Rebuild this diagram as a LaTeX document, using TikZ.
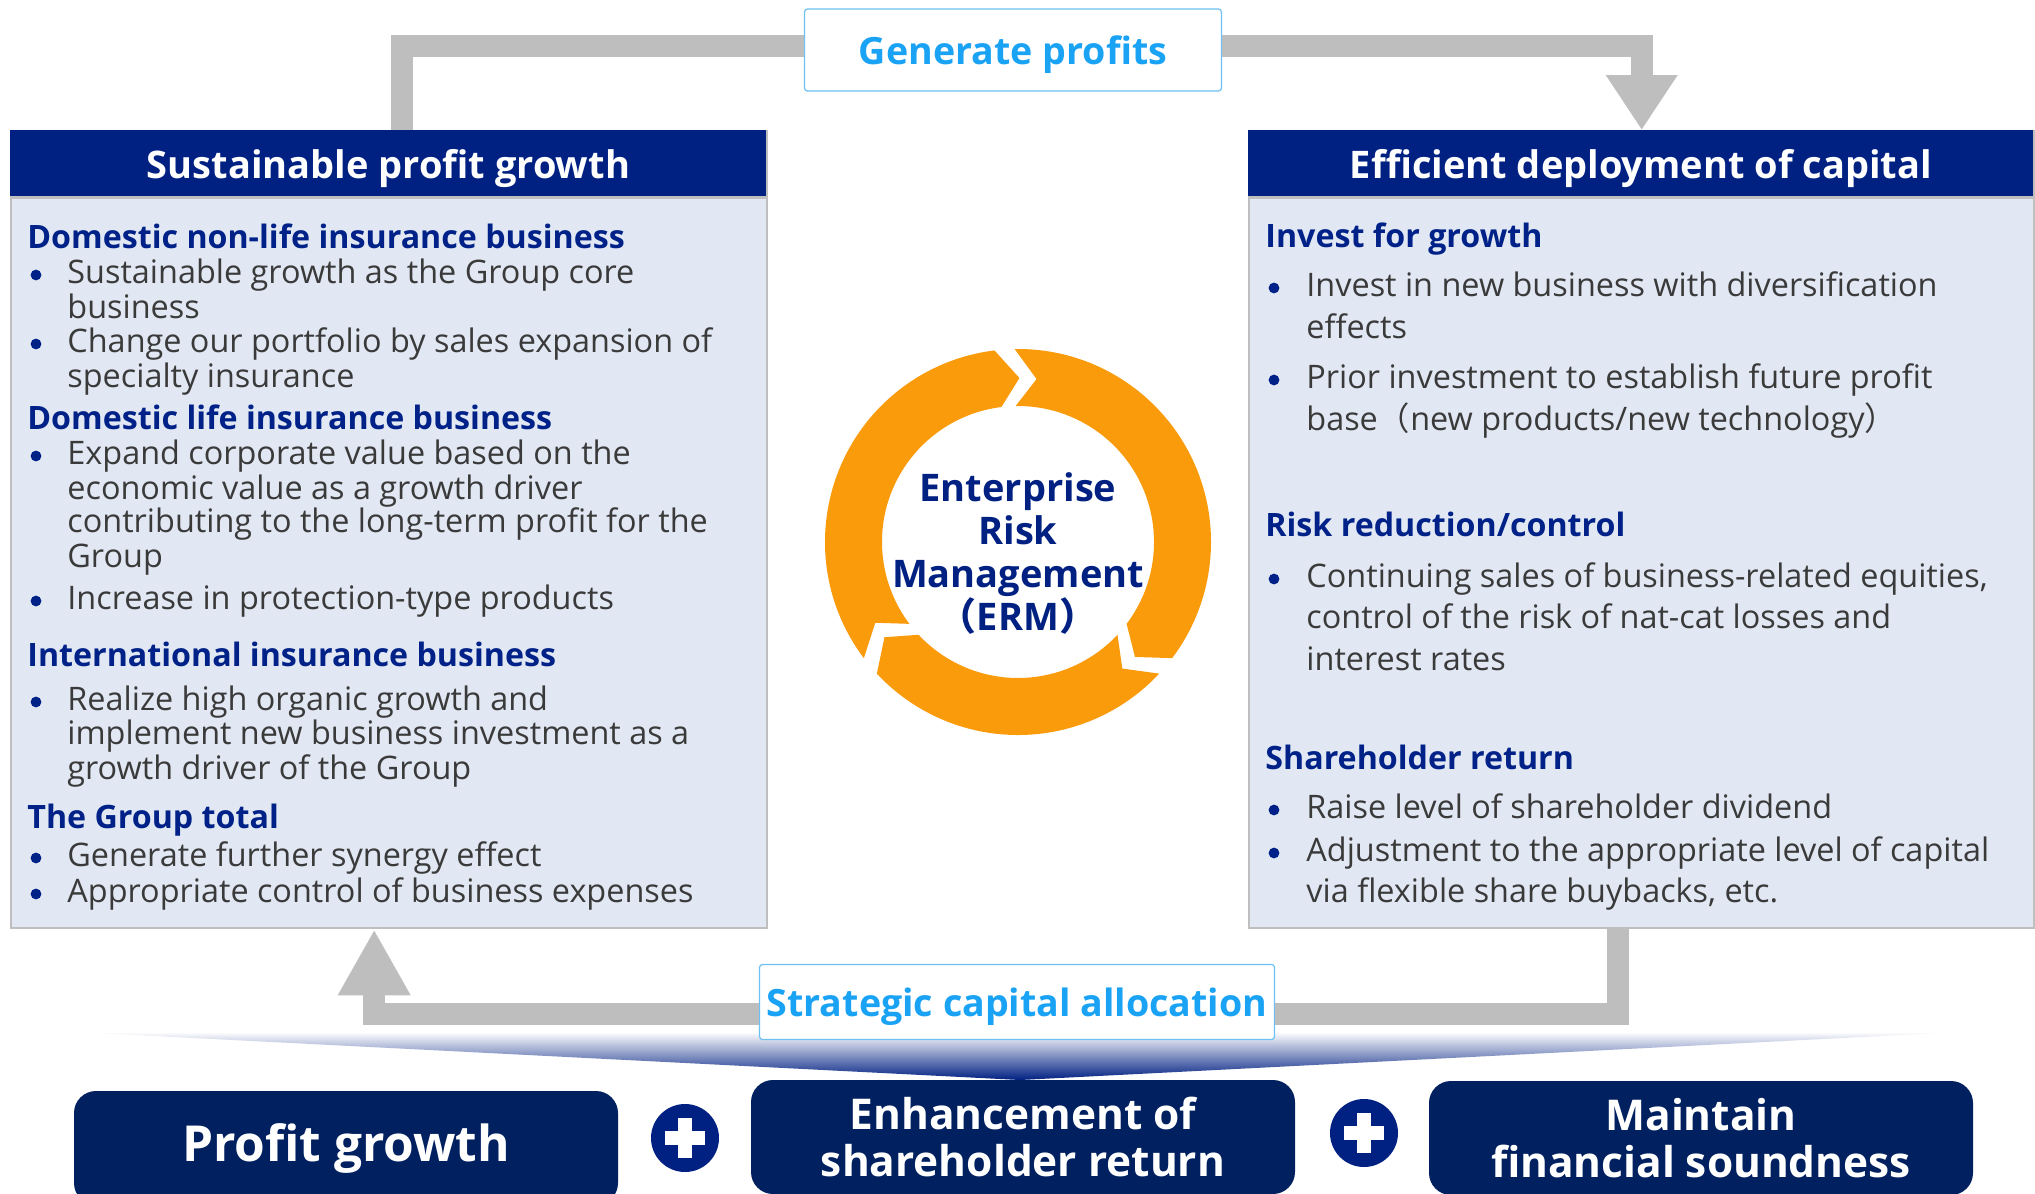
\documentclass[tikz,border=0pt]{standalone}
\usepackage{fontspec}
\setmainfont{Open Sans}
\newfontfamily\cjkfont{Noto Sans CJK JP}
\usepackage{xcolor}
\usetikzlibrary{arrows.meta,positioning}

\definecolor{hdrblue}{HTML}{002082}
\definecolor{goalnavy}{HTML}{00205F}
\definecolor{panelfill}{HTML}{E1E8F3}
\definecolor{panelline}{HTML}{BFBFBF}
\definecolor{subblue}{HTML}{002288}
\definecolor{bodygray}{HTML}{3A3A3A}
\definecolor{flowgray}{HTML}{BEBEBE}
\definecolor{skyblue}{HTML}{1AA3F5}
\definecolor{skyline}{HTML}{6CC0F2}
\definecolor{ringorange}{HTML}{F99B0B}

\begin{document}
\begin{tikzpicture}[x=0.5pt, y=-0.5pt,
  panel/.style={draw=panelline, line width=1.2pt, fill=panelfill, anchor=north west, inner sep=0},
  hdr/.style={fill=hdrblue, anchor=north west, inner sep=0, text=white, text height=19pt, text depth=4.5pt,
    font=\bfseries\fontsize{19}{22}\selectfont},
  sub/.style={anchor=west, inner sep=0, text=subblue, text height=16.2pt, text depth=3.5pt,
    font=\bfseries\fontsize{16.1}{19}\selectfont},
  body/.style={anchor=west, inner sep=0, text=bodygray, text height=16pt, text depth=3.5pt,
    font=\fontsize{16.2}{19}\selectfont},
  dot/.style={circle, fill=subblue, inner sep=0, minimum size=5.4pt, yshift=-2pt},
  tag/.style={draw=skyline, line width=0.6pt, fill=white, rounded corners=1.5pt, text=skyblue,
    inner sep=0, text height=18.5pt, text depth=4.5pt, font=\bfseries\fontsize{18.8}{21}\selectfont},
  goal/.style={fill=goalnavy, rounded corners=11pt, text=white, align=center, inner sep=0,
    minimum width=272pt, minimum height=57pt, font=\bfseries\fontsize{21.2}{23.5}\selectfont},
  plusdisc/.style={circle, fill=hdrblue, inner sep=0, minimum size=34pt},
  flow/.style={draw=flowgray, line width=11pt},
  erm/.style={align=center, text=hdrblue, inner sep=0,
    font=\bfseries\fontsize{19}{21.5}\selectfont}]
  \clip (0,0) rectangle (2035,1194);
  \fill[white] (0,0) rectangle (2035,1194);

  % funnel shading above the three goals
  \shade[top color=white, bottom color=hdrblue] (75,1032) -- (1960,1032) -- (1020,1080) -- cycle;

  % panels
  \node[panel, minimum width=378pt, minimum height=398.5pt] (lbox) at (10,130) {};
  \node[hdr, minimum width=378pt, minimum height=33.5pt] (lhdr) at (10,130) {Sustainable profit growth};
  \draw[panelline, line width=1.5pt] (lhdr.south west) -- (lhdr.south east);
  \node[panel, minimum width=392.5pt, minimum height=398.5pt] (rbox) at (1248,130) {};
  \node[hdr, minimum width=392.5pt, minimum height=33.5pt] (rhdr) at (1248,130) {Efficient deployment of capital};
  \draw[panelline, line width=1.5pt] (rhdr.south west) -- (rhdr.south east);

  % left panel text
  \node[sub] (ls1) at (27,236) {Domestic non-life insurance business};
  \node[sub] (ls2) at (27,417) {Domestic life insurance business};
  \node[sub] (ls3) at (27,654) {International insurance business};
  \node[sub] (ls4) at (27,816) {The Group total};
  \foreach \yy in {271,340,452,597,698,854,890}
    \node[dot] (ld\yy) at (36,\yy) {};
  \foreach \yy/\txt in {271/{Sustainable growth as the Group core}, 306/{business},
      340/{Change our portfolio by sales expansion of}, 375/{specialty insurance},
      452/{Expand corporate value based on the}, 487/{economic value as a growth driver},
      520/{contributing to the long-term profit for the}, 555/{Group},
      597/{Increase in protection-type products},
      698/{Realize high organic growth and}, 732/{implement new business investment as a},
      767/{growth driver of the Group},
      854/{Generate further synergy effect}, 890/{Appropriate control of business expenses}}
    \node[body] (lt\yy) at (67,\yy) {\txt};

  % right panel text
  \node[sub] (rs1) at (1265,235) {Invest for growth};
  \node[sub] (rs2) at (1265,524) {Risk reduction/control};
  \node[sub] (rs3) at (1265,757) {Shareholder return};
  \foreach \yy in {284,376,575,806,849}
    \node[dot] (rd\yy) at (1274,\yy) {};
  \foreach \yy/\txt in {284/{Invest in new business with diversification}, 326/{effects},
      376/{Prior investment to establish future profit},
      418/{base{\cjkfont （}new products/new technology{\cjkfont ）}},
      575/{Continuing sales of business-related equities,},
      616/{control of the risk of nat-cat losses and}, 658/{interest rates},
      806/{Raise level of shareholder dividend},
      849/{Adjustment to the appropriate level of capital},
      890/{via flexible share buybacks, etc.}}
    \node[body] (rt\yy) at (1306,\yy) {\txt};

  % ERM cycle
  \begin{scope}[shift={(1018,542)}]
    \foreach \s/\e in {91/-37, -43/-137, -143/-263}
      \fill[ringorange] (\s:96.5pt) arc[start angle=\s, end angle=\e, radius=96.5pt]
        -- (\e-7.5:82pt) -- (\e:68pt) arc[start angle=\e, end angle=\s, radius=68pt]
        -- (\s-7.5:82pt) -- cycle;
  \end{scope}
  \node[erm] (ermtxt) at (1018,554) {Enterprise\\Risk\\Management\\{\cjkfont （}ERM{\cjkfont ）}};

  % flow labels
  \node[tag, minimum width=208.5pt, minimum height=41pt] (gen) at (1013,50) {Generate profits};
  \node[tag, minimum width=257.5pt, minimum height=37.5pt] (alloc) at (1017,1002) {Strategic capital allocation};

  % flow connectors
  \draw[flow] ([xshift=6.5pt]lbox.north) |- ([yshift=2pt]gen.west);
  \draw[flow, -{Triangle[length=27.5pt, width=34pt]}] ([yshift=2pt]gen.east) -| (rbox.north);
  \draw[flow] ([xshift=-12pt]rbox.south) |- ([yshift=-6pt]alloc.east);
  \draw[flow, -{Triangle[length=33pt, width=34pt]}] ([yshift=-6pt]alloc.west) -| ([xshift=-7.5pt]lbox.south);

  % goals
  \node[goal, font=\bfseries\fontsize{24.8}{27}\selectfont] (pg) at (346,1148) {Profit growth};
  \node[goal] (sr) at (1023,1137) {Enhancement of\\shareholder return};
  \node[goal] (fs) at (1701,1138) {Maintain\\financial soundness};
  \node[plusdisc] (p1) at (685,1138) {};
  \node[plusdisc] (p2) at (1364,1133) {};
  \foreach \p in {p1,p2} {
    \draw[white, line width=7pt] ([xshift=-10pt]\p.center) -- ([xshift=10pt]\p.center);
    \draw[white, line width=7pt] ([yshift=-10pt]\p.center) -- ([yshift=10pt]\p.center);
  }
\end{tikzpicture}
\end{document}
